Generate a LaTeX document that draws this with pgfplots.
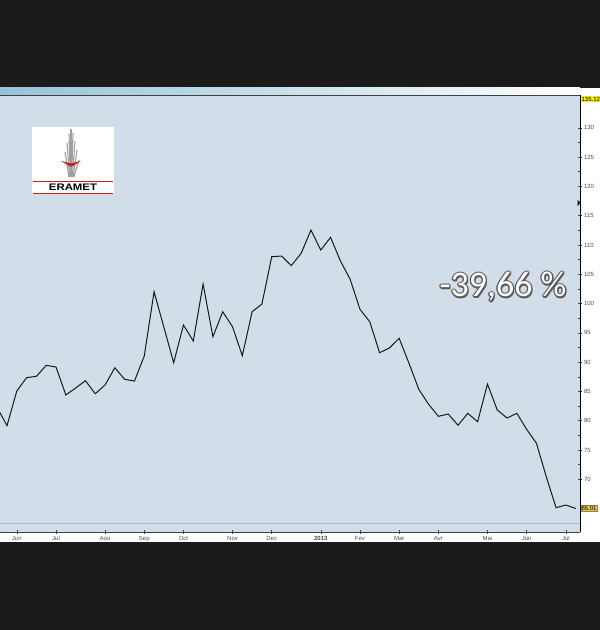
\documentclass[border=0pt]{standalone}
\usepackage{fontspec}
\setmainfont{Liberation Sans}
\newfontfamily\bigfont{Carlito}
\usepackage{pgfplots}
\pgfplotsset{compat=1.18}
\definecolor{plotbg}{RGB}{209,221,232}
\definecolor{hdrblue}{RGB}{150,195,215}
\definecolor{darkband}{RGB}{27,27,27}
\definecolor{gridln}{RGB}{169,188,203}
\definecolor{boxyel}{RGB}{240,240,20}
\definecolor{boxorg}{RGB}{240,200,50}
\definecolor{logored}{RGB}{200,30,30}
\newcommand\bigtext{\bigfont\fontsize{36}{36}\selectfont -39,66 \%}

% weekly closes, x = week index
\pgfplotstableread{
x y
0 82.25
1 79.15
2 85.07
3 87.34
4 87.58
5 89.45
6 89.16
7 84.39
8 85.58
9 86.83
10 84.61
11 86.09
12 89.04
13 87.06
14 86.77
15 91.04
16 102.01
17 95.96
18 89.90
19 96.33
20 93.60
21 103.33
22 94.33
23 98.60
24 96.04
25 91.09
26 98.60
27 99.91
28 107.99
29 108.11
30 106.48
31 108.57
32 112.54
33 109.13
34 111.30
35 107.30
36 104.13
37 99.01
38 96.89
39 91.60
40 92.41
41 94.06
42 89.80
43 85.36
44 82.80
45 80.75
46 81.14
47 79.22
48 81.26
49 79.83
50 86.26
51 81.83
52 80.46
53 81.26
54 78.53
55 76.14
56 70.44
57 65.15
58 65.61
59 65.01
}\eramet

\begin{document}
\begin{tikzpicture}[x=1pt,y=1pt]
\fill[darkband] (0,0) rectangle (600,630);
\fill[white] (0,88) rectangle (600,542);
\shade[left color=hdrblue, right color=white] (0,535) rectangle (580,542);

\begin{axis}[
  at={(0pt,535pt)}, anchor=north west,
  width=580pt, height=437pt, scale only axis,
  xmin=0.286, xmax=59.44, ymin=61.0, ymax=135.6,
  clip=false,
  axis line style={draw=none},
  axis background/.style={fill=plotbg},
  xtick={2,6,11,15,19,24,28,33,37,41,45,50,54,58},
  xticklabels={Jun,Jul,Aou,Sep,Oct,Nov,Dec,\textbf{2013},Fev,Mar,Avr,Mai,Jun,Jul},
  xtick pos=bottom, ytick pos=right,
  yticklabel pos=right,
  ytick={70,75,...,130},
  minor y tick num=1,
  tick align=center,
  major tick length=4pt, minor tick length=3pt,
  tick style={black!75, line width=0.5pt},
  ticklabel style={font=\fontsize{6}{7}\selectfont, text=black!70},
  yticklabel style={xshift=-1.5pt},
  xticklabel style={yshift=1.5pt},
  /pgf/number format/assume math mode=true,
]
\draw[gridln, line width=0.6pt] (axis cs:0.286,62.5) -- (axis cs:59.44,62.5);
\addplot[black!90, line width=1pt, mark=none] table[x=x, y=y] {\eramet};
\draw[black!75, line width=0.8pt] (rel axis cs:0,1) -- (rel axis cs:1,1);
\draw[black!75, line width=0.8pt] (rel axis cs:0,0) -- (rel axis cs:1,0);
\draw[black, line width=0.8pt] (rel axis cs:1,0) -- (rel axis cs:1,1);
\node[fill=boxyel, inner sep=0.8pt, anchor=west, font=\fontsize{6}{7}\selectfont] at (axis cs:59.5,134.9) {135.12};
\node[fill=boxorg, draw=black!50, line width=0.3pt, inner sep=0.8pt, anchor=west, font=\fontsize{6}{7}\selectfont] at (axis cs:59.5,65.01) {65.01};
\fill[black] (axis cs:59.2,116.6) -- (axis cs:59.2,117.7) -- (axis cs:59.44,117.15) -- cycle;
\end{axis}

% logo
\fill[white] (32,436) rectangle (114,503);
\foreach \xx/\tp in {65/152,67/143,69/134,71/129,73/133,75/141,77/150,79/160}{
  \draw[gray!75, line width=1.1pt] (\xx,630-\tp) -- ({71+(\xx-71)*0.35},630-177);
}
\fill[logored] (61,469) .. controls (66,466) and (69,464) .. (71,463.5) .. controls (73,464) and (76,466) .. (81,469) -- (71,466.5) -- cycle;
\draw[logored, line width=0.6pt] (33,449) -- (113,449);
\draw[logored, line width=0.6pt] (33,437) -- (113,437);
\node[xscale=1.2, font=\bfseries\fontsize{9.5}{10}\selectfont, inner sep=0] at (73,442.8) {ERAMET};

% percentage label
\foreach \dx/\dy in {1.3/0,-1.3/0,0/1.3,0/-1.3,0.9/0.9,-0.9/0.9,0.9/-0.9,-0.9/-0.9,1.2/-1.5}{
  \node[text=gray!70!black, inner sep=0] at (503+\dx,343+\dy) {\bigtext};
}
\node[text=white, inner sep=0] at (503,343) {\bigtext};

\pgfresetboundingbox
\useasboundingbox (0,0) rectangle (600,630);
\end{tikzpicture}
\end{document}
